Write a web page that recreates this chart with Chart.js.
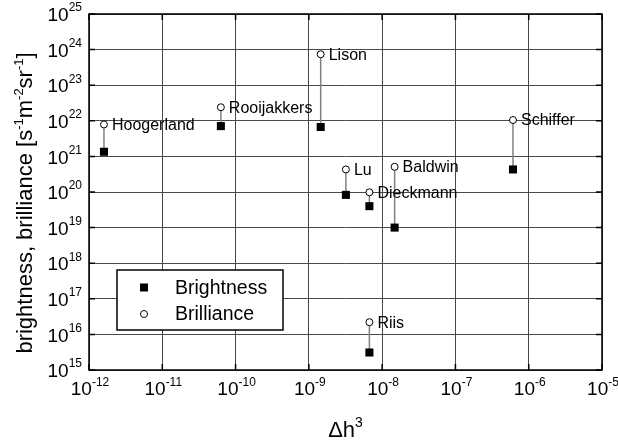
<!DOCTYPE html>
<html>
<head>
<meta charset="utf-8">
<script src="https://cdn.jsdelivr.net/npm/chart.js@4"></script>
<style>
  html, body { margin: 0; padding: 0; background: #fff; }
  #wrap { width: 618px; height: 445px; }
</style>
</head>
<body>
<div id="wrap"><canvas id="chart" width="618" height="445"></canvas></div>
<script>
const FONT = '"Liberation Sans", Arial, sans-serif';

// data
const names      = ['Hoogerland', 'Rooijakkers', 'Lison', 'Lu', 'Dieckmann', 'Baldwin', 'Schiffer', 'Riis'];
const dh3        = [1.6e-12, 6.3e-11, 1.45e-9, 3.2e-9, 6.7e-9, 1.48e-8, 6.1e-7, 6.7e-9];
const brightness = [1.35e21, 7.1e21, 6.7e21, 8.3e19, 4.0e19, 1.0e19, 4.3e20, 3.1e15];
const brilliance = [7.9e21, 2.4e22, 7.4e23, 4.3e20, 9.8e19, 5.1e20, 1.05e22, 2.2e16];

const xExps = [-12, -11, -10, -9, -8, -7, -6, -5];
const yExps = [15, 16, 17, 18, 19, 20, 21, 22, 23, 24, 25];

// one little line per pair, drawn under the markers
const links = names.map((n, i) => ({
  type: 'line',
  data: [{ x: dh3[i], y: brightness[i] }, { x: dh3[i], y: brilliance[i] }],
  borderColor: '#808080',
  borderWidth: 1.5,
  pointRadius: 0,
  order: 10
}));

function pow10(ctx, exp, x, y, align, big, small, rise) {
  ctx.font = big + 'px ' + FONT;
  const wb = ctx.measureText('10').width;
  ctx.font = small + 'px ' + FONT;
  const we = ctx.measureText(String(exp)).width;
  let x0 = x;
  if (align === 'right') x0 = x - wb - we;
  if (align === 'center') x0 = x - (wb + we) / 2;
  ctx.textAlign = 'left';
  ctx.textBaseline = 'middle';
  ctx.font = big + 'px ' + FONT;
  ctx.fillText('10', x0, y);
  ctx.font = small + 'px ' + FONT;
  ctx.fillText(String(exp), x0 + wb, y - rise);
}

// write a run of [text, isSuper] parts starting at x
function runText(ctx, parts, x, y, big, small, rise) {
  ctx.textAlign = 'left';
  ctx.textBaseline = 'alphabetic';
  parts.forEach(p => {
    ctx.font = (p[1] ? small : big) + 'px ' + FONT;
    ctx.fillText(p[0], x, p[1] ? y - rise : y);
    x += ctx.measureText(p[0]).width;
  });
  return x;
}
function runWidth(ctx, parts, big, small) {
  let w = 0;
  parts.forEach(p => {
    ctx.font = (p[1] ? small : big) + 'px ' + FONT;
    w += ctx.measureText(p[0]).width;
  });
  return w;
}

const extras = {
  id: 'extras',
  afterDraw(chart) {
    const ctx = chart.ctx;
    const a = chart.chartArea;
    const xs = chart.scales.x, ys = chart.scales.y;
    ctx.save();
    ctx.fillStyle = '#000';
    ctx.strokeStyle = '#000';

    // frame
    ctx.lineWidth = 1.5;
    ctx.strokeRect(a.left, a.top, a.right - a.left, a.bottom - a.top);

    // inward tick marks
    ctx.lineWidth = 1.5;
    ctx.beginPath();
    yExps.forEach(e => {
      const py = ys.getPixelForValue(Math.pow(10, e));
      ctx.moveTo(a.left, py); ctx.lineTo(a.left + 6, py);
      ctx.moveTo(a.right, py); ctx.lineTo(a.right - 6, py);
    });
    xExps.forEach(e => {
      const px = xs.getPixelForValue(Math.pow(10, e));
      ctx.moveTo(px, a.bottom); ctx.lineTo(px, a.bottom - 6);
      ctx.moveTo(px, a.top); ctx.lineTo(px, a.top + 6);
    });
    ctx.stroke();

    // tick labels
    yExps.forEach(e => {
      const py = ys.getPixelForValue(Math.pow(10, e));
      pow10(ctx, e, a.left - 7, py + 2, 'right', 19, 12, 8);
    });
    xExps.forEach(e => {
      const px = xs.getPixelForValue(Math.pow(10, e));
      pow10(ctx, e, px + 1, a.bottom + 20, 'center', 19, 12, 7);
    });

    // point names
    ctx.font = '16px ' + FONT;
    ctx.textAlign = 'left';
    ctx.textBaseline = 'middle';
    names.forEach((n, i) => {
      const px = xs.getPixelForValue(dh3[i]);
      const py = ys.getPixelForValue(brilliance[i]);
      ctx.fillText(n, px + 8, py + 1);
    });

    // x title
    const xt = [['\u0394h', false], ['3', true]];
    const xw = runWidth(ctx, xt, 22, 14);
    runText(ctx, xt, (a.left + a.right) / 2 - xw / 2, 437, 22, 14, 10);

    // y title, rotated
    const yt = [['brightness, brilliance [s', false], ['-1', true], ['m', false], ['-2', true],
                ['sr', false], ['-1', true], [']', false]];
    ctx.save();
    ctx.translate(32, 203);
    ctx.rotate(-Math.PI / 2);
    const yw = runWidth(ctx, yt, 22, 13);
    runText(ctx, yt, -yw / 2, 0, 22, 13, 9);
    ctx.restore();

    // legend
    ctx.fillStyle = '#fff';
    ctx.fillRect(117, 270, 166, 60);
    ctx.lineWidth = 1.5;
    ctx.strokeStyle = '#000';
    ctx.strokeRect(117, 270, 166, 60);
    ctx.fillStyle = '#000';
    ctx.fillRect(140, 283.5, 8, 8);
    ctx.beginPath();
    ctx.arc(144, 314, 3.5, 0, Math.PI * 2);
    ctx.fillStyle = '#fff';
    ctx.fill();
    ctx.lineWidth = 1;
    ctx.stroke();
    ctx.fillStyle = '#000';
    ctx.font = '19.5px ' + FONT;
    ctx.textBaseline = 'middle';
    ctx.fillText('Brightness', 175, 289);
    ctx.fillText('Brilliance', 175, 315);

    ctx.restore();
  }
};

new Chart(document.getElementById('chart'), {
  type: 'scatter',
  data: {
    datasets: [
      {
        label: 'Brilliance',
        data: dh3.map((x, i) => ({ x: x, y: brilliance[i] })),
        pointStyle: 'circle',
        pointRadius: 3.5,
        backgroundColor: '#fff',
        borderColor: '#000',
        borderWidth: 1,
        order: 1
      },
      {
        label: 'Brightness',
        data: dh3.map((x, i) => ({ x: x, y: brightness[i] })),
        pointStyle: 'rect',
        pointRadius: 5.7,
        backgroundColor: '#000',
        borderColor: '#000',
        borderWidth: 0,
        order: 2
      }
    ].concat(links)
  },
  options: {
    responsive: false,
    animation: false,
    events: [],
    layout: { padding: { left: 89, right: 16, top: 14, bottom: 75 } },
    plugins: { legend: { display: false }, tooltip: { enabled: false } },
    scales: {
      x: {
        type: 'logarithmic',
        min: 1e-12,
        max: 1e-5,
        afterBuildTicks: s => { s.ticks = xExps.map(e => ({ value: Math.pow(10, e) })); },
        ticks: { display: false },
        grid: { color: '#4a4a4a', lineWidth: 1, drawTicks: false },
        border: { display: false }
      },
      y: {
        type: 'logarithmic',
        min: 1e15,
        max: 1e25,
        afterBuildTicks: s => { s.ticks = yExps.map(e => ({ value: Math.pow(10, e) })); },
        ticks: { display: false },
        grid: { color: '#4a4a4a', lineWidth: 1, drawTicks: false },
        border: { display: false }
      }
    }
  },
  plugins: [extras]
});
</script>
</body>
</html>
